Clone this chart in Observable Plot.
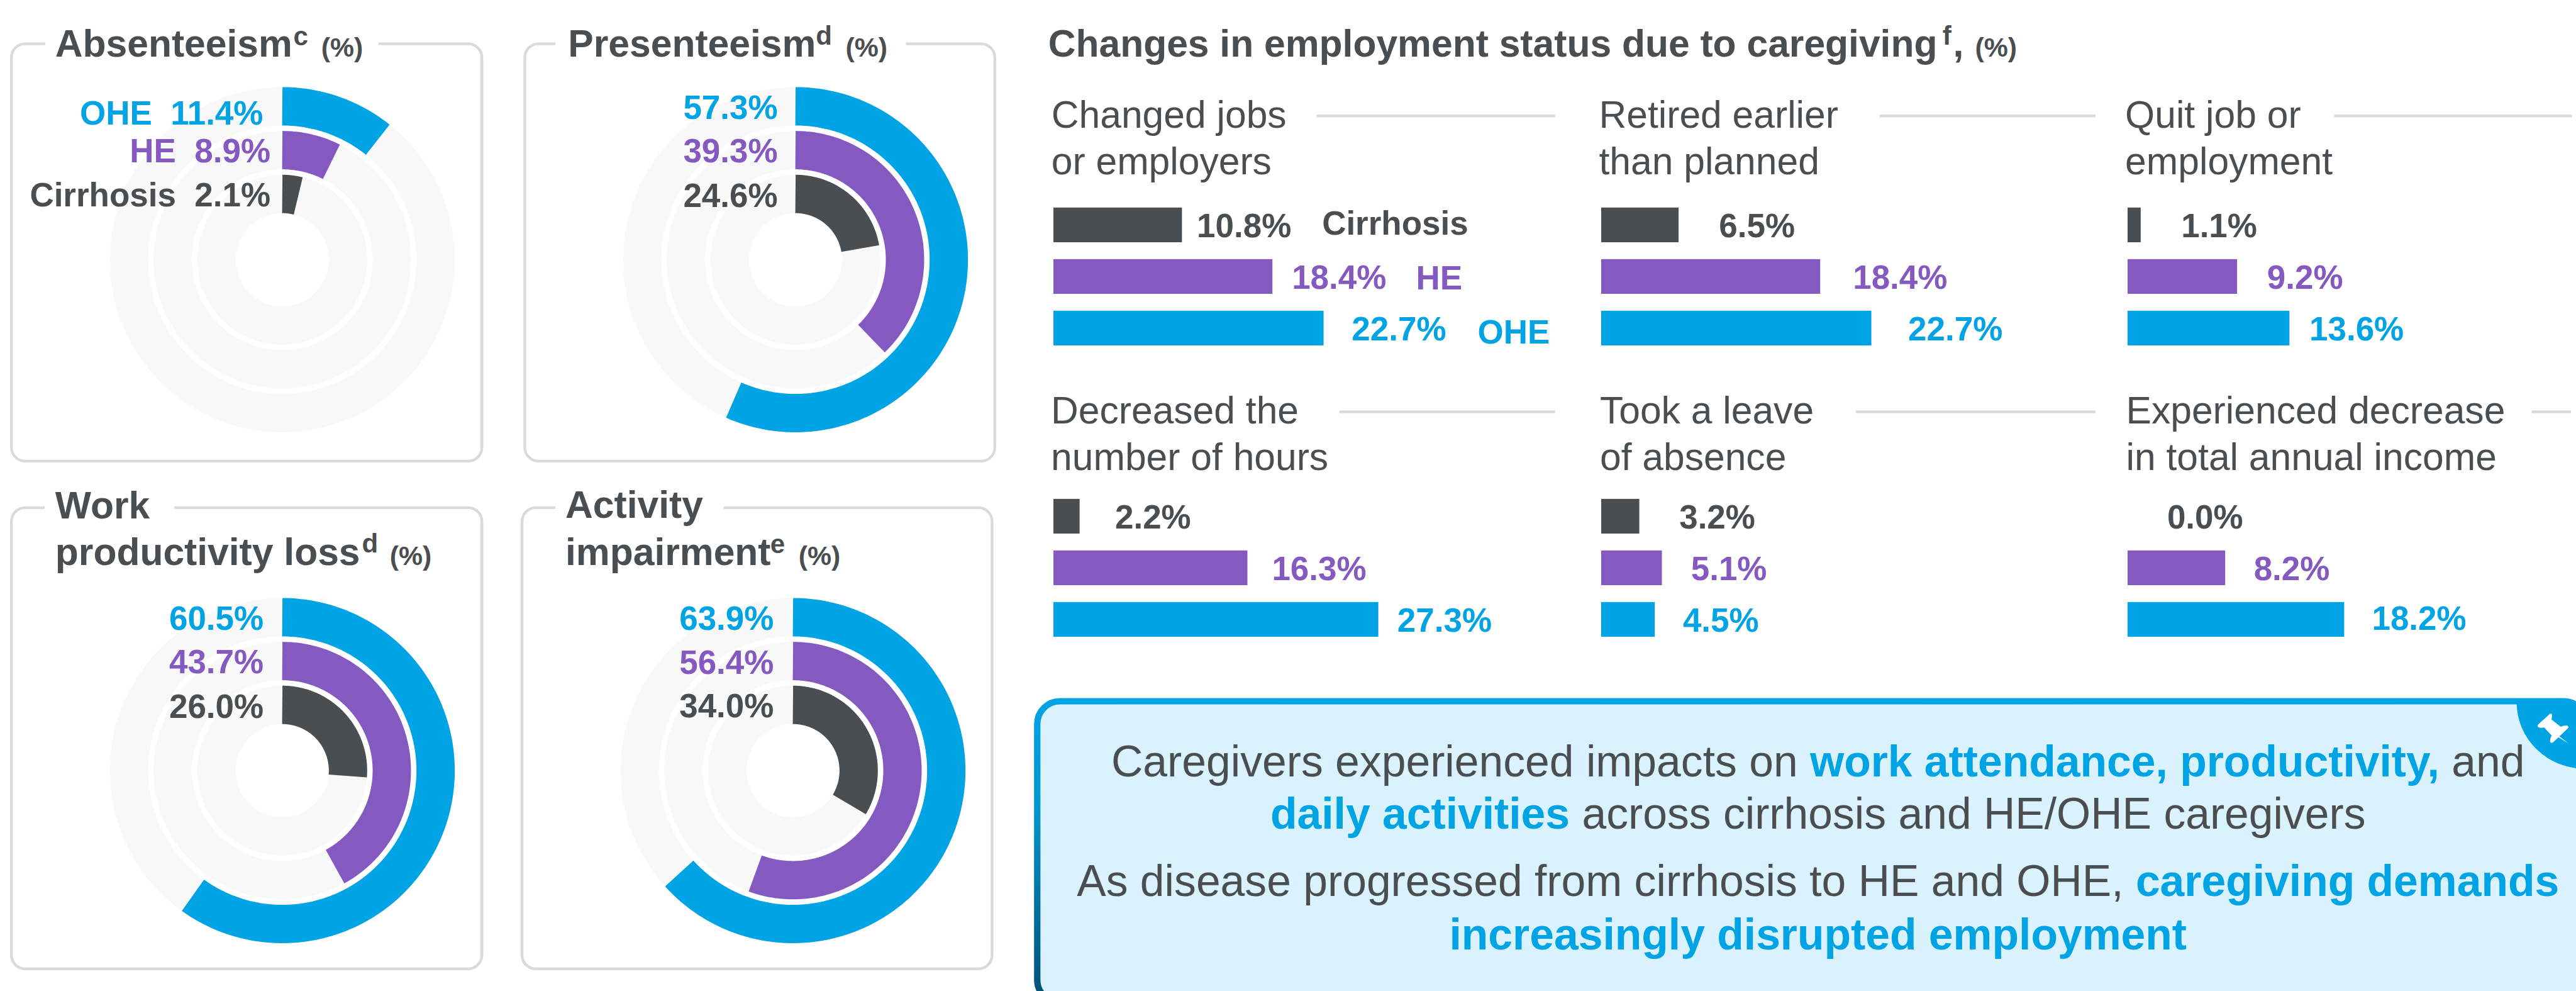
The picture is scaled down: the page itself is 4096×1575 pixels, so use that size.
<!DOCTYPE html>
<html>
<head>
<meta charset="utf-8">
<script src="https://cdn.jsdelivr.net/npm/d3@7"></script>
<script src="https://cdn.jsdelivr.net/npm/@observablehq/plot@0.6"></script>
<style>
html,body{margin:0;padding:0;background:#fff;overflow:hidden;width:4096px;height:1575px}
#page{position:relative;width:4096px;height:1575px;overflow:hidden;font-family:"Liberation Sans",Arial,sans-serif}
#page>svg{position:absolute;overflow:visible}
</style>
</head>
<body>
<div id="page"></div>
<script>
// ---------- chart values ----------
const levels = ["Cirrhosis", "HE", "OHE"];
const donutNames = ["Absenteeism", "Presenteeism", "Work productivity loss", "Activity impairment"];
const donutCirrhosis = [2.1, 24.6, 26.0, 34.0];
const donutHE = [8.9, 39.3, 43.7, 56.4];
const donutOHE = [11.4, 57.3, 60.5, 63.9];
// extent of each arc as drawn in the picture (share of a full turn, %)
const arcCirrhosis = [3.9, 22.3, 26.3, 33.6];
const arcHE = [7.4, 37.8, 42.0, 55.6];
const arcOHE = [10.7, 56.6, 59.9, 63.3];

const barGroups = ["Changed jobs or employers", "Retired earlier than planned", "Quit job or employment",
  "Decreased the number of hours", "Took a leave of absence", "Experienced decrease in total annual income"];
const barCirrhosis = [10.8, 6.5, 1.1, 2.2, 3.2, 0.0];
const barHE = [18.4, 18.4, 9.2, 16.3, 5.1, 8.2];
const barOHE = [22.7, 22.7, 13.6, 27.3, 4.5, 18.2];

// ---------- look ----------
const S = 4096 / 5645;                // reference pixel -> page pixel
const FONT = '"Liberation Sans",Arial,sans-serif';
const INK = "#4a4e51", BLUE = "#00a3e3", PURPLE = "#845ac1", TRACK = "#f8f8f8", RULE = "#dadada";
const levelColor = {Cirrhosis: INK, HE: PURPLE, OHE: BLUE};
const page = document.getElementById("page");
const place = (el, x, y) => { el.style.left = x * S + "px"; el.style.top = y * S + "px"; page.append(el); };

// ---------- backdrop: frames, callout box ----------
const back = d3.create("svg").attr("width", 4096).attr("height", 1575).style("left", 0).style("top", 0);
const backG = back.append("g").attr("transform", `scale(${S})`);
const defs = back.append("defs");
const grad = defs.append("linearGradient").attr("id", "edge").attr("x1", 0).attr("y1", 0).attr("x2", 0).attr("y2", 1);
grad.append("stop").attr("offset", "0%").attr("stop-color", "#00a3e3");
grad.append("stop").attr("offset", "35%").attr("stop-color", "#0095cf");
grad.append("stop").attr("offset", "100%").attr("stop-color", "#004f72");

const frames = [
  {l: 25, r: 1056, t: 96, b: 1010, g0: 99, g1: 829},
  {l: 1150, r: 2180, t: 96, b: 1010, g0: 1217, g1: 1985},
  {l: 25, r: 1056, t: 1112, b: 2122, g0: 98, g1: 382},
  {l: 1144, r: 2174, t: 1112, b: 2122, g0: 1217, g1: 1586}
];
const R = 30;
for (const f of frames) {
  backG.append("path").attr("fill", "none").attr("stroke", RULE).attr("stroke-width", 6)
    .attr("d", `M${f.g0},${f.t}H${f.l + R}A${R},${R} 0 0 0 ${f.l},${f.t + R}V${f.b - R}A${R},${R} 0 0 0 ${f.l + R},${f.b}H${f.r - R}A${R},${R} 0 0 0 ${f.r},${f.b - R}V${f.t + R}A${R},${R} 0 0 0 ${f.r - R},${f.t}H${f.g1}`);
}
const headRules = [[2885,3408,254],[4119,4592,254],[5115,5636,254],[2935,3408,902],[4067,4592,902],[5548,5634,902]];
for (const [a, b, y] of headRules) {
  backG.append("rect").attr("x", a).attr("y", y - 3).attr("width", b - a).attr("height", 6).attr("fill", RULE);
}
// callout box
backG.append("rect").attr("x", 2273).attr("y", 1536).attr("width", 3395).attr("height", 660)
  .attr("rx", 50).attr("ry", 50).attr("fill", "#daf2fe").attr("stroke", "url(#edge)").attr("stroke-width", 14);
backG.append("path").attr("fill", BLUE).attr("d", "M5515,1538A150,145 0 0 0 5665,1684L5665,1538Z");
backG.append("path").attr("fill", "#fff").attr("transform", "translate(5300,1480) scale(0.3333)")
  .attr("d", "M785,322L862,252Q878,245 878,262Q876,278 874,288L935,335Q950,328 975,327Q990,332 982,346L926,398L988,447L920,405L885,438Q868,447 864,432Q864,412 875,393L825,340Q805,345 790,340Q778,335 785,322Z");
page.append(back.node());

// ---------- radial bars ----------
const ringMid = {OHE: 336, HE: 240, Cirrhosis: 144};
const ringWidth = 84;
const donutLayout = [
  {cx: 618, cy: 568, labelEnd: [-26, -26, -42], labelUp: [143, 240, 322], prefix: true},
  {cx: 1742, cy: 568, labelEnd: [-39, -39, -39], labelUp: [142, 239, 335]},
  {cx: 618, cy: 1687, labelEnd: [-41, -41, -41], labelUp: [142, 239, 335]},
  {cx: 1737, cy: 1687, labelEnd: [-42, -42, -42], labelUp: [143, 238, 335]}
];
function ringPath(level, extent) {
  const r = ringMid[level], pts = [];
  const end = extent * 3.6;
  for (let a = 0; a < end; a += 1) pts.push(a);
  pts.push(end);
  return pts.map(a => ({level, x: r * Math.sin(a * Math.PI / 180), y: r * Math.cos(a * Math.PI / 180)}));
}
const HALF = 400, LEFT = 600;
donutNames.forEach((name, i) => {
  const lay = donutLayout[i];
  const extents = {Cirrhosis: arcCirrhosis[i], HE: arcHE[i], OHE: arcOHE[i]};
  const shown = {Cirrhosis: donutCirrhosis[i], HE: donutHE[i], OHE: donutOHE[i]};
  const tracks = levels.flatMap(l => ringPath(l, 100));
  const arcs = levels.flatMap(l => ringPath(l, extents[l]));
  const labels = levels.map((l, k) => ({
    level: l,
    x: lay.labelEnd[k],
    y: lay.labelUp[k],
    text: (lay.prefix ? l + "\u00a0\u00a0" : "") + shown[l].toFixed(1) + "%"
  }));
  const plot = Plot.plot({
    width: (LEFT + HALF) * S, height: 2 * HALF * S, margin: 0,
    style: {background: "transparent", fontFamily: FONT, overflow: "visible"},
    x: {domain: [-LEFT, HALF], axis: null},
    y: {domain: [-HALF, HALF], axis: null},
    color: {domain: levels, range: levels.map(l => levelColor[l])},
    marks: [
      Plot.line(tracks, {x: "x", y: "y", z: "level", stroke: TRACK, strokeWidth: ringWidth * S, strokeLinecap: "butt", strokeLinejoin: "round"}),
      Plot.line(arcs, {x: "x", y: "y", z: "level", stroke: "level", strokeWidth: ringWidth * S, strokeLinecap: "butt", strokeLinejoin: "round"}),
      Plot.text(labels, {x: "x", y: "y", text: "text", fill: "level", textAnchor: "end", fontWeight: "bold", fontSize: 73 * S, lineAnchor: "middle", dy: 2})
    ]
  });
  place(plot, lay.cx - LEFT, lay.cy - HALF);
});

// ---------- small horizontal bars ----------
const PX_PER_PCT = 26.08, STEP = 113, BAR = 76, XMAX = 44;
const PAD = (STEP - BAR) / STEP;
const barLayout = [
  {x0: 2308, top: 454, gaps: [32, 42, 61], tweak: [0, 0, 0]},
  {x0: 3509, top: 454, gaps: [88, 71, 80], tweak: [0, 0, 0]},
  {x0: 4662, top: 454, gaps: [88, 65, 43], tweak: [0, 0, 0]},
  {x0: 2308, top: 1092, gaps: [77, 53, 41], tweak: [0, 0, 0]},
  {x0: 3509, top: 1092, gaps: [87, 63, 61], tweak: [0, 0, 0]},
  {x0: 4662, top: 1092, gaps: [86, 62, 60], tweak: [0, 0, -4]}
];
const seriesTags = [
  {level: "Cirrhosis", at: 588, dy: -6},
  {level: "HE", at: 794, dy: 1},
  {level: "OHE", at: 929, dy: 7}
];
barGroups.forEach((name, i) => {
  const lay = barLayout[i];
  const vals = [barCirrhosis[i], barHE[i], barOHE[i]];
  const rows = levels.map((level, k) => ({level, value: vals[k], gap: lay.gaps[k], tweak: lay.tweak[k]}));
  const plotH = STEP * (3 + PAD);
  const marks = [
    Plot.barX(rows, {x: "value", y: "level", fill: "level"}),
    ...rows.map(r => Plot.text([r], {
      x: d => d.value + d.gap / PX_PER_PCT, y: "level",
      text: d => d.value.toFixed(1) + "%", fill: "level", textAnchor: "start",
      fontWeight: "bold", fontSize: 73 * S, lineAnchor: "middle", dy: 2 + r.tweak * S
    }))
  ];
  if (i === 0) {
    for (const t of seriesTags) {
      marks.push(Plot.text([t], {
        x: d => d.at / PX_PER_PCT, y: "level", text: "level", fill: "level", textAnchor: "start",
        fontWeight: "bold", fontSize: 73 * S, lineAnchor: "middle", dy: 2 + t.dy * S
      }));
    }
  }
  const plot = Plot.plot({
    width: XMAX * PX_PER_PCT * S, height: plotH * S, margin: 0,
    style: {background: "transparent", fontFamily: FONT, overflow: "visible"},
    x: {domain: [0, XMAX], axis: null},
    y: {domain: levels, axis: null, padding: PAD, round: false},
    color: {domain: levels, range: levels.map(l => levelColor[l])},
    marks
  });
  place(plot, lay.x0, lay.top - PAD * STEP);
});

// ---------- text layer ----------
const front = d3.create("svg").attr("width", 4096).attr("height", 1575).style("left", 0).style("top", 0)
  .style("pointer-events", "none").style("font-family", FONT);
const fg = front.append("g").attr("transform", `scale(${S})`);
function label(x, y, parts, opt = {}) {
  const t = fg.append("text").attr("x", x).attr("y", y).attr("fill", INK)
    .attr("font-size", opt.size || 83.5).attr("font-weight", opt.weight || "normal")
    .attr("text-anchor", opt.anchor || "start").style("white-space", "pre");
  for (const p of [].concat(parts)) {
    const part = typeof p === "string" ? {t: p} : p;
    const s = t.append("tspan").text(part.t);
    if (part.fill) s.attr("fill", part.fill);
    if (part.weight) s.attr("font-weight", part.weight);
  }
  return t;
}
const B = {weight: "bold"};
const SUP = {size: 58, weight: "bold"}, UNIT = {size: 59, weight: "bold"};
// panel titles
label(121, 124, "Absenteeism", B);  label(643, 99, "c", SUP);  label(704, 124, "(%)", UNIT);
label(1245, 124, "Presenteeism", B); label(1788, 98, "d", SUP); label(1853, 124, "(%)", UNIT);
label(121, 1135, "Work", B);
label(121, 1237, "productivity loss", B); label(793, 1210, "d", SUP); label(854, 1237, "(%)", UNIT);
label(1239, 1134, "Activity", B);
label(1239, 1238, "impairment", B); label(1688, 1212, "e", SUP); label(1750, 1238, "(%)", UNIT);
// section title
label(2297, 124, "Changes in employment status due to caregiving", B);
label(4257, 98, "f", {size: 58, weight: "bold"});
label(4280, 124, ",", B);
label(4328, 124, "(%)", UNIT);
// group headings
const headings = [
  [2304, 280, "Changed jobs", "or employers"],
  [3504, 280, "Retired earlier", "than planned"],
  [4657, 280, "Quit job or", "employment"],
  [2303, 927, "Decreased the", "number of hours"],
  [3506, 927, "Took a leave", "of absence"],
  [4659, 927, "Experienced decrease", "in total annual income"]
];
for (const [x, y, a, b] of headings) { label(x, y, a); label(x, y + 102, b); }
// callout
const BX = 3984, BSZ = 96;
label(BX, 1700, ["Caregivers experienced impacts on ", {t: "work attendance, productivity,", fill: BLUE, weight: "bold"}, " and"], {size: BSZ, anchor: "middle"});
label(BX, 1815, [{t: "daily activities", fill: BLUE, weight: "bold"}, " across cirrhosis and HE/OHE caregivers"], {size: BSZ, anchor: "middle"});
label(BX, 1963, ["As disease progressed from cirrhosis to HE and OHE, ", {t: "caregiving demands", fill: BLUE, weight: "bold"}], {size: BSZ, anchor: "middle"});
label(BX, 2079, [{t: "increasingly disrupted employment", fill: BLUE, weight: "bold"}], {size: BSZ, anchor: "middle"});
page.append(front.node());
</script>
</body>
</html>
